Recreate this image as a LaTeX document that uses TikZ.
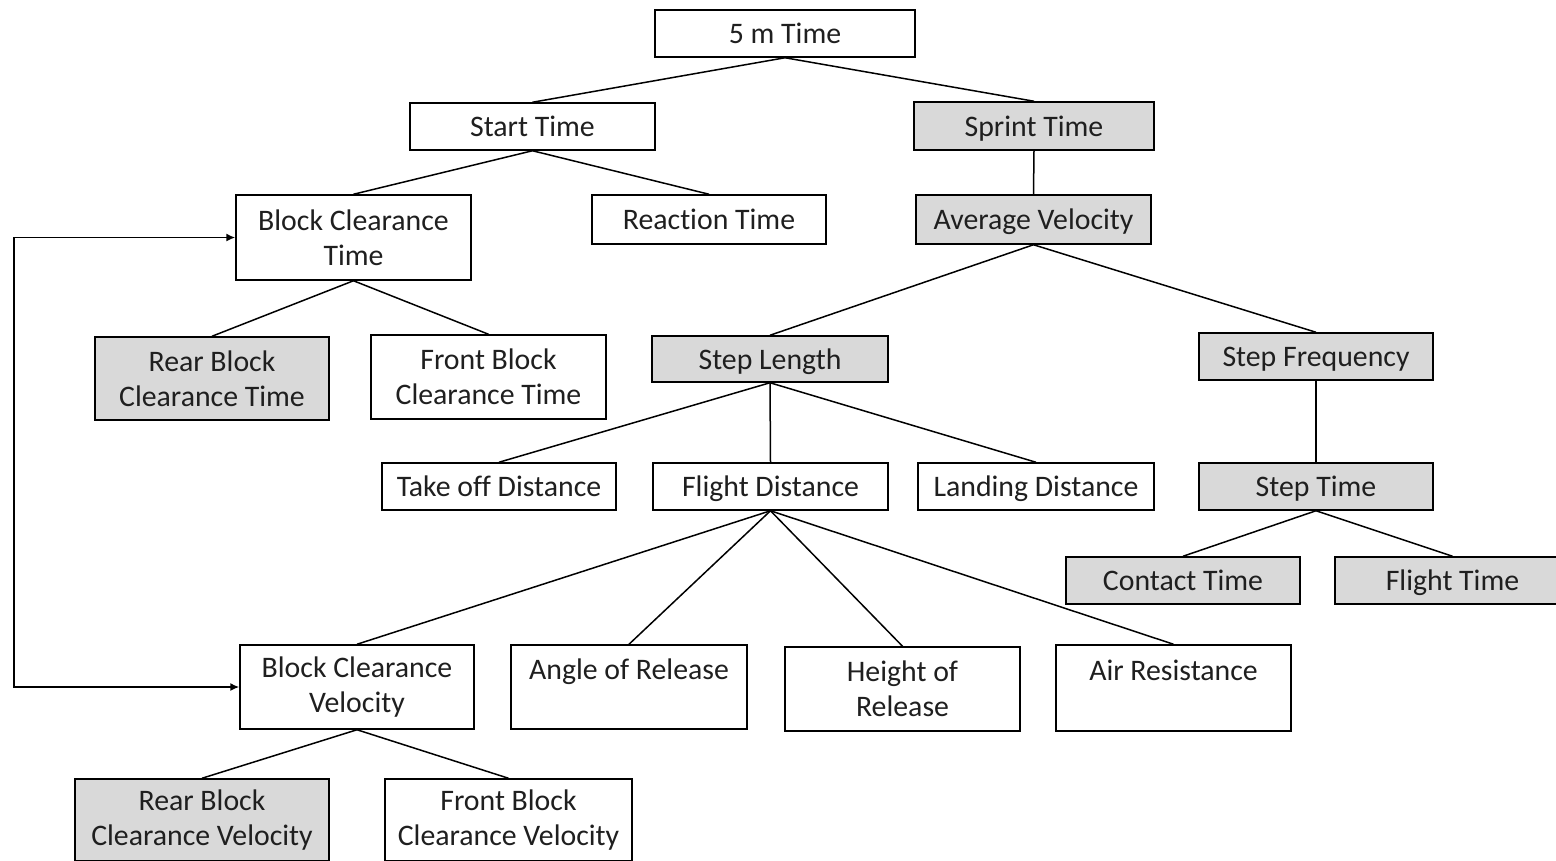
\documentclass[tikz,border=0pt]{standalone}
\usepackage{fontspec}
\setmainfont{Carlito}[Ligatures=NoCommon]
\usetikzlibrary{arrows.meta}
\definecolor{boxgray}{HTML}{D9D9D9}
\begin{document}
\begin{tikzpicture}[x=1pt,y=-1pt,
  box/.style={draw, line width=1.5pt, inner sep=0pt, align=center,
    font=\fontsize{29.8}{35}\selectfont, text=black!88},
  wbox/.style={box, fill=white},
  gbox/.style={box, fill=boxgray},
  one/.style={text height=27pt, text depth=7pt},
  link/.style={line width=1.5pt},
  loop/.style={line width=1.5pt, {Latex[length=9pt,width=8pt]}-{Latex[length=9pt,width=8pt]}}]
\useasboundingbox (0,0) rectangle (1556,860);
\begin{scope}
\clip (0,0) rectangle (1556,860);
\node[wbox, one, minimum width=260pt, minimum height=47pt] (t5) at (785,33.5) {5 m Time};
\node[wbox, one, minimum width=245pt, minimum height=47pt] (st) at (532.5,126.5) {Start Time};
\node[gbox, one, minimum width=240pt, minimum height=48pt] (sp) at (1034,126) {Sprint Time};
\node[wbox, minimum width=235pt, minimum height=85pt] (bct) at (353.5,237.5) {Block Clearance\\Time};
\node[wbox, one, minimum width=234pt, minimum height=49pt] (rt) at (709,219.5) {Reaction Time};
\node[gbox, one, minimum width=235pt, minimum height=49pt] (av) at (1033.5,219.5) {Average Velocity};
\node[gbox, minimum width=234pt, minimum height=83pt] (rbct) at (212,378.5) {Rear Block\\Clearance Time};
\node[wbox, minimum width=235pt, minimum height=84pt] (fbct) at (488.5,377) {Front Block\\Clearance Time};
\node[gbox, one, minimum width=236pt, minimum height=46pt] (sl) at (770,359) {Step Length};
\node[gbox, one, minimum width=234pt, minimum height=47pt] (sf) at (1316,356.5) {Step Frequency};
\node[wbox, one, minimum width=234pt, minimum height=47pt] (tod) at (499,486.5) {Take off Distance};
\node[wbox, one, minimum width=235pt, minimum height=47pt] (fd) at (770.5,486.5) {Flight Distance};
\node[wbox, one, minimum width=236pt, minimum height=47pt] (ld) at (1036,486.5) {Landing Distance};
\node[gbox, one, minimum width=234pt, minimum height=47pt] (stt) at (1316,486.5) {Step Time};
\node[gbox, one, minimum width=234pt, minimum height=47pt] (ct) at (1183,580.5) {Contact Time};
\node[gbox, one, minimum width=235pt, minimum height=47pt] (ft) at (1452.5,580.5) {Flight Time};
\node[wbox, minimum width=234pt, minimum height=84pt] (bcv) at (357,687) {Block Clearance\\Velocity};
\node[wbox, minimum width=236pt, minimum height=84pt] (ar) at (629,687) {Angle of Release\\\mbox{}};
\node[wbox, minimum width=235pt, minimum height=84pt] (hr) at (902.5,689) {Height of\\Release};
\node[wbox, minimum width=235pt, minimum height=86pt] (air) at (1173.5,688) {Air Resistance\\\mbox{}};
\node[gbox, minimum width=254pt, minimum height=82pt] (rbcv) at (202,820) {Rear Block\\Clearance Velocity};
\node[wbox, minimum width=247pt, minimum height=82pt] (fbcv) at (508.5,820) {Front Block\\Clearance Velocity};

\draw[link] (t5.south) -- (st.north);
\draw[link] (t5.south) -- (sp.north);
\draw[link] (st.south) -- (bct.north);
\draw[link] (st.south) -- (rt.north);
\draw[link] (sp.south) -- (av.north);
\draw[link] (bct.south) -- (rbct.north);
\draw[link] (bct.south) -- (fbct.north);
\draw[link] (av.south) -- (sl.north);
\draw[link] (av.south) -- (sf.north);
\draw[link] (sl.south) -- (tod.north);
\draw[link] (sl.south) -- (fd.north);
\draw[link] (sl.south) -- (ld.north);
\draw[link] (sf.south) -- (stt.north);
\draw[link] (stt.south) -- (ct.north);
\draw[link] (stt.south) -- (ft.north);
\draw[link] (fd.south) -- (bcv.north);
\draw[link] (fd.south) -- (ar.north);
\draw[link] (fd.south) -- (hr.north);
\draw[link] (fd.south) -- (air.north);
\draw[link] (bcv.south) -- (rbcv.north);
\draw[link] (bcv.south) -- (fbcv.north);
\coordinate (lx) at (14,0);
\draw[loop] (bct.west) -- (bct.west -| lx) |- (bcv.west);
\end{scope}
\end{tikzpicture}
\end{document}
